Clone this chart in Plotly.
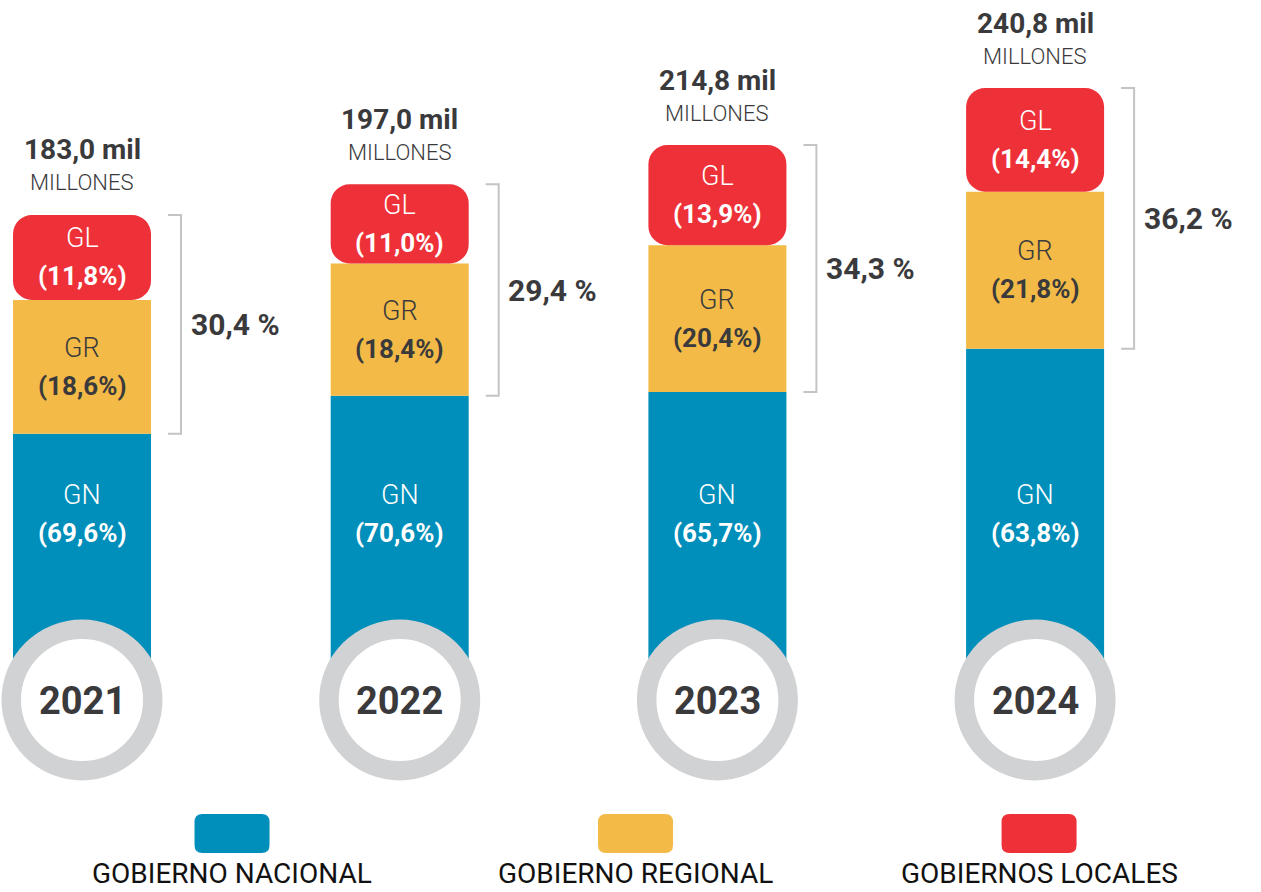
import plotly.graph_objects as go

# ---------------- data ----------------
years = ["2021", "2022", "2023", "2024"]
totals = [183.0, 197.0, 214.8, 240.8]          # mil millones
gn_pct = [69.6, 70.6, 65.7, 63.8]              # Gobierno Nacional
gr_pct = [18.6, 18.4, 20.4, 21.8]              # Gobierno Regional
gl_pct = [11.8, 11.0, 13.9, 14.4]              # Gobiernos Locales
series_codes = ["GN", "GR", "GL"]
series_names = ["GOBIERNO NACIONAL", "GOBIERNO REGIONAL", "GOBIERNOS LOCALES"]
total_suffix = "mil"
total_unit = "MILLONES"

# ---------------- style ----------------
W, H = 1261, 892
FONT = "Roboto"
DARK = "#3A3A3C"
COLORS = {"GN": "#008EBA", "GR": "#F3BA47", "GL": "#EE3139"}
TEXTCOL = {"GN": "white", "GR": "#3A3A3C", "GL": "white"}
RING = "#D1D2D4"
BRACKET = "#C4C4C4"

PX_PER_PCT = 7.2          # vertical pixels per percentage point
TOP_SCALE = 0.305         # columns rise with the yearly total (infographic style)
PLOT_H = 700              # plot area height (ends at the year circles' centres)
CAT_PX = 317.7            # pixels between category centres
FIRST_PX = 82             # centre of first category
BAR_W = 138 / CAT_PX

dom_bottom = 1 - PLOT_H / H


def fmt(v, d=1):
    return f"{v:.{d}f}".replace(".", ",")


n = len(years)
tops = [TOP_SCALE * t for t in totals]
y_max = max(tops) + 88 / PX_PER_PCT
y_min = y_max - PLOT_H / PX_PER_PCT
x_range = [-FIRST_PX / CAT_PX, (W - FIRST_PX) / CAT_PX]

gl_base = [t - gl for t, gl in zip(tops, gl_pct)]
gr_base = [b - gr for b, gr in zip(gl_base, gr_pct)]
gn_base = [b - gn for b, gn in zip(gr_base, gn_pct)]

fig = go.Figure()
for code, vals, base, rad in [("GN", gn_pct, gn_base, 0),
                              ("GR", gr_pct, gr_base, 0),
                              ("GL", gl_pct, gl_base, 19)]:
    fig.add_trace(go.Bar(
        x=years, y=vals, base=base, width=BAR_W, name=code,
        marker=dict(color=COLORS[code], line=dict(width=0), cornerradius=rad),
        hoverinfo="skip", showlegend=False,
    ))

shapes = []
annotations = []


def ann(**kw):
    kw.setdefault("showarrow", False)
    kw.setdefault("xanchor", "center")
    kw.setdefault("yanchor", "middle")
    annotations.append(kw)


for i in range(n):
    top = tops[i]
    gl, gr, gn = gl_pct[i], gr_pct[i], gn_pct[i]
    bnd = top - gl - gr

    # total label
    ann(x=i, y=top, xref="x", yref="y", yshift=65,
        text=f"<b>{fmt(totals[i])} {total_suffix}</b>",
        font=dict(family=FONT, size=28, color=DARK, weight=700))
    ann(x=i, y=top, xref="x", yref="y", yshift=32, text=total_unit,
        font=dict(family=FONT, size=22, color=DARK, weight=300))

    # segment labels
    for code, yc, yref, pct in [("GL", top - gl / 2, "y", gl),
                                ("GR", top - gl - gr / 2, "y", gr),
                                ("GN", 1 - 514 / H, "paper", gn)]:
        ann(x=i, y=yc, xref="x", yref=yref, yshift=19, text=code,
            font=dict(family=FONT, size=27, color=TEXTCOL[code], weight=300))
        ann(x=i, y=yc, xref="x", yref=yref, yshift=-19, text=f"<b>({fmt(pct)}%)</b>",
            font=dict(family=FONT, size=26, color=TEXTCOL[code], weight=700))

    # bracket GL+GR
    shapes.append(dict(type="path", xref="x", yref="y", xsizemode="pixel", xanchor=i,
                       path=f"M 86,{top} H 99 V {bnd} H 86",
                       line=dict(color=BRACKET, width=2)))
    ann(x=i, y=(top + bnd) / 2, xref="x", yref="y", xshift=153,
        text=f"<b>{fmt(gl + gr)} %</b>",
        font=dict(family=FONT, size=30, color=DARK, weight=700))

    # year circle
    shapes.append(dict(type="circle", xref="x", yref="paper", xsizemode="pixel",
                       ysizemode="pixel", xanchor=i, yanchor=dom_bottom,
                       x0=-70.75, x1=70.75, y0=-70.75, y1=70.75,
                       fillcolor="white", line=dict(color=RING, width=19.5), layer="above"))
    ann(x=i, y=dom_bottom, xref="x", yref="paper", yshift=-1,
        text=f"<b>{years[i]}</b>",
        font=dict(family=FONT, size=38, color=DARK, weight=700))

# legend
box = ("M -29.5,-19.5 H 29.5 Q 37.5,-19.5 37.5,-11.5 V 11.5 Q 37.5,19.5 29.5,19.5 "
       "H -29.5 Q -37.5,19.5 -37.5,11.5 V -11.5 Q -37.5,-19.5 -29.5,-19.5 Z")
for k, (code, name) in enumerate(zip(series_codes, series_names)):
    lx = 0.184 + 0.32 * k
    shapes.append(dict(type="path", xref="paper", yref="paper", xsizemode="pixel",
                       ysizemode="pixel", xanchor=lx, yanchor=1 - 833.5 / H, path=box,
                       fillcolor=COLORS[code], line=dict(width=0)))
    ann(x=lx, y=0, xref="paper", yref="paper", yanchor="bottom", yshift=0, text=name,
        font=dict(family=FONT, size=28, color="#111111", weight=400))

fig.update_layout(
    width=W, height=H,
    margin=dict(l=0, r=0, t=0, b=0),
    paper_bgcolor="white", plot_bgcolor="white",
    barmode="overlay",
    xaxis=dict(type="category", range=x_range, visible=False, fixedrange=True),
    yaxis=dict(range=[y_min, y_max], domain=[dom_bottom, 1], visible=False, fixedrange=True),
    shapes=shapes, annotations=annotations,
    hovermode=False,
)

fig.write_html("out.html", config={"displayModeBar": False},
               post_script="document.body.style.margin='0';")
